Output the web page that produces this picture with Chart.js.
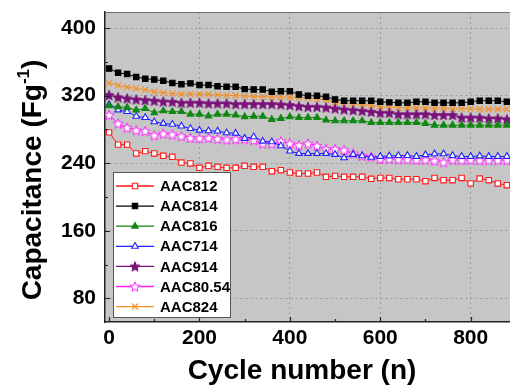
<!DOCTYPE html>
<html lang="en">
<head>
<meta charset="UTF-8">
<script src="https://cdn.jsdelivr.net/npm/chart.js"></script>
<style>
    html, body { margin: 0; padding: 0; background: #ffffff; }
    canvas { display: block; }
</style>
<title>Capacitance vs cycle number</title>
</head>
<body>
<canvas id="chartCanvas" width="510" height="386"></canvas>
<script>
// cycle numbers (x values)
const cycles = [0, 20, 40, 60, 80, 100, 120, 140, 160, 180, 200, 220, 240, 260, 280, 300, 320, 340, 360, 380,
    400, 420, 440, 460, 480, 500, 520, 540, 560, 580, 600, 620, 640, 660, 680, 700, 720, 740, 760, 780,
    800, 820, 840, 860, 880];

const seriesNames = ['AAC812', 'AAC814', 'AAC816', 'AAC714', 'AAC914', 'AAC80.54', 'AAC824'];

// capacitance values (F/g)
const aac812 = [276.5, 262, 262, 251.5, 254.3, 251.5, 248.7, 247.6, 240.8, 239.7,
    234.5, 236.9, 235.7, 234.5, 234.5, 236.9, 235.7, 235.7, 230.5, 231.7,
    229, 227.8, 227.8, 229, 223.9, 225, 223.9, 223.9, 223.9, 221.5,
    222.6, 222.6, 221, 221, 221, 218.7, 222.6, 219.9, 219.9, 222.6,
    216, 221.8, 219.9, 216, 214];
const aac814 = [352, 347, 345.5, 342, 340, 339, 337.5, 335, 333.5, 334.5,
    332.5, 332.5, 331, 330.5, 330.5, 327.7, 327.3, 327.3, 324.5, 325.3,
    325.3, 321.4, 319.8, 319.8, 318.6, 315.5, 313.9, 313.9, 313.9, 313.9,
    312.7, 312, 311.5, 311.5, 312.7, 312.7, 311.5, 311.5, 311.5, 311.5,
    312.7, 313.9, 313.9, 313.9, 312.7];
const aac816 = [308, 306.8, 306, 302.8, 304.8, 299.6, 302, 301, 301, 298,
    298, 295.7, 298, 298, 297, 295, 295.5, 295.5, 291.8, 293,
    294.9, 294, 294, 294, 291, 290.2, 290.2, 290.2, 290.2, 288,
    288, 288, 288, 288, 288, 287, 285, 285, 285, 285,
    285, 285, 285, 285, 285];
const aac714 = [309.5, 303, 301, 295.5, 294, 289, 287, 286, 284, 281,
    279, 278.3, 278, 276, 275.5, 269.3, 271.2, 266, 265.3, 260.6,
    254.3, 251.5, 251.5, 251.5, 251.5, 250.3, 246.3, 250.3, 248.7, 247,
    248, 248.5, 249, 249, 248, 250, 251, 251, 249, 248,
    248, 248.5, 248, 248, 248];
const aac914 = [320.6, 318, 316.7, 315.5, 314.7, 314, 313, 312.7, 311.5, 311.5,
    311.5, 310.8, 310.8, 310.8, 310, 310, 310, 310, 310, 309.5,
    308.8, 307.5, 306.8, 306.8, 306, 304.8, 303.6, 302.8, 302, 300.8,
    299.6, 299.6, 298, 298, 298, 298, 297, 297, 297, 294,
    294, 294, 293, 293, 292];
const aac8054 = [297, 287, 282, 279, 278, 273, 275, 274, 272, 270,
    269.5, 270, 269, 268, 268.5, 268.5, 267.3, 263.3, 263.3, 266,
    263.3, 261.4, 263.3, 260.6, 256.6, 256.6, 255.4, 251.5, 248.7, 247.6,
    245, 245, 244.5, 244.5, 244, 244, 243, 241, 244, 243.5,
    244, 243.5, 243.5, 243.5, 243.5];
const aac824 = [335, 332, 330, 328.5, 327, 324.5, 323.5, 322.5, 322, 322,
    321.5, 321.5, 321, 320.5, 320, 319.5, 319, 319, 318.5, 318.5,
    318, 317.5, 317, 316, 315, 312, 311, 310.5, 309.5, 308.5,
    307, 306, 306, 305.5, 305.5, 305, 305, 305, 304.5, 304.5,
    304.5, 304, 304, 304, 304];

const xTicks = [0, 200, 400, 600, 800];
const yTicks = [80, 160, 240, 320, 400];

const FONT = "'Liberation Sans', Arial, sans-serif";

// 5-point star marker as a small canvas
function starImage(fill, stroke) {
    const c = document.createElement('canvas');
    c.width = 12;
    c.height = 12;
    const g = c.getContext('2d');
    g.beginPath();
    for (let i = 0; i < 10; i++) {
        const r = i % 2 ? 2.3 : 5.2;
        const a = -Math.PI / 2 + i * Math.PI / 5;
        const px = 6 + r * Math.cos(a);
        const py = 6.5 + r * Math.sin(a);
        if (i === 0) g.moveTo(px, py); else g.lineTo(px, py);
    }
    g.closePath();
    g.fillStyle = fill;
    g.fill();
    g.lineWidth = 1;
    g.strokeStyle = stroke;
    g.stroke();
    return c;
}

function toPoints(values) {
    return values.map((v, i) => ({ x: cycles[i], y: v }));
}

const styles = [
    { color: '#ff1a1a', style: 'rect', fill: '#ffffff', radius: 3.8 },
    { color: '#000000', style: 'rect', fill: '#000000', radius: 3.8 },
    { color: '#118811', style: 'triangle', fill: '#118811', radius: 3.8 },
    { color: '#2222ff', style: 'triangle', fill: '#ffffff', radius: 3.8 },
    { color: '#7a107a', style: starImage('#7a107a', '#7a107a'), fill: '#7a107a', radius: 4 },
    { color: '#ff22ff', style: starImage('#ffffff', '#ff22ff'), fill: '#ffffff', radius: 4 },
    { color: '#f59020', style: 'crossRot', fill: '#f59020', radius: 4.4 }
];
const seriesValues = [aac812, aac814, aac816, aac714, aac914, aac8054, aac824];

const datasets = seriesNames.map((name, i) => ({
    label: name,
    data: toPoints(seriesValues[i]),
    borderColor: styles[i].color,
    backgroundColor: styles[i].fill,
    pointStyle: styles[i].style,
    pointRadius: styles[i].radius,
    pointBorderColor: styles[i].color,
    pointBackgroundColor: styles[i].fill,
    pointBorderWidth: 1.1,
    borderWidth: 1,
    fill: false,
    tension: 0
}));

// gray plot background
const plotBackground = {
    id: 'plotBackground',
    beforeDraw(chart) {
        const { ctx, chartArea: a } = chart;
        ctx.save();
        ctx.fillStyle = '#c6c6c6';
        ctx.fillRect(a.left, a.top, a.right - a.left, a.bottom - a.top);
        ctx.restore();
    }
};

// inward tick marks, top frame, axis titles and the boxed legend
const decorations = {
    id: 'decorations',
    afterDraw(chart) {
        const { ctx, chartArea: a } = chart;
        const xs = chart.scales.x;
        const ys = chart.scales.y;
        ctx.save();

        // top frame
        ctx.strokeStyle = '#707070';
        ctx.lineWidth = 1;
        ctx.beginPath();
        ctx.moveTo(a.left, a.top + 0.5);
        ctx.lineTo(a.right, a.top + 0.5);
        ctx.stroke();

        // ticks
        ctx.strokeStyle = '#222222';
        ctx.lineWidth = 1.2;
        ctx.beginPath();
        for (let v = 0; v <= 880; v += 100) {
            const px = Math.round(xs.getPixelForValue(v)) + 0.5;
            const len = v % 200 === 0 ? 5 : 3;
            ctx.moveTo(px, a.bottom);
            ctx.lineTo(px, a.bottom - len);
        }
        for (let v = 80; v <= 400; v += 40) {
            const py = Math.round(ys.getPixelForValue(v)) + 0.5;
            const len = v % 80 === 0 ? 5 : 3;
            ctx.moveTo(a.left, py);
            ctx.lineTo(a.left + len, py);
        }
        ctx.stroke();

        // axis titles
        ctx.fillStyle = '#000000';
        ctx.font = 'bold 28px ' + FONT;
        ctx.textAlign = 'center';
        ctx.textBaseline = 'middle';
        ctx.fillText('Cycle number (n)', 302, 371);

        ctx.save();
        ctx.translate(31, 180);
        ctx.rotate(-Math.PI / 2);
        const main = 'Capacitance (Fg';
        const sup = '-1';
        const close = ')';
        ctx.font = 'bold 28px ' + FONT;
        const wMain = ctx.measureText(main).width;
        const wClose = ctx.measureText(close).width;
        ctx.font = 'bold 17px ' + FONT;
        const wSup = ctx.measureText(sup).width;
        const total = wMain + wSup + wClose;
        const x0 = -total / 2;
        ctx.textAlign = 'left';
        ctx.textBaseline = 'alphabetic';
        ctx.font = 'bold 28px ' + FONT;
        ctx.fillText(main, x0, 10);
        ctx.font = 'bold 17px ' + FONT;
        ctx.fillText(sup, x0 + wMain, -2);
        ctx.font = 'bold 28px ' + FONT;
        ctx.fillText(close, x0 + wMain + wSup, 10);
        ctx.restore();

        // legend box
        const box = { x: 113, y: 172, w: 117, h: 145 };
        ctx.fillStyle = '#ffffff';
        ctx.fillRect(box.x, box.y, box.w, box.h);
        ctx.strokeStyle = '#555555';
        ctx.lineWidth = 1;
        ctx.strokeRect(box.x + 0.5, box.y + 0.5, box.w, box.h);

        ctx.font = 'bold 15px ' + FONT;
        ctx.textAlign = 'left';
        ctx.textBaseline = 'middle';
        chart.data.datasets.forEach((ds, i) => {
            const cy = 186 + i * 20.1;
            ctx.strokeStyle = ds.borderColor;
            ctx.lineWidth = 1.3;
            ctx.beginPath();
            ctx.moveTo(116, cy);
            ctx.lineTo(154, cy);
            ctx.stroke();
            ctx.fillStyle = ds.pointBackgroundColor;
            ctx.strokeStyle = ds.pointBorderColor;
            ctx.lineWidth = 1.1;
            Chart.helpers.drawPoint(ctx, {
                pointStyle: ds.pointStyle,
                radius: ds.pointRadius,
                borderWidth: 1.1,
                rotation: 0
            }, 135, cy);
            ctx.fillStyle = '#000000';
            ctx.fillText(ds.label, 160, cy + 1);
        });

        ctx.restore();
    }
};

const tickFont = { family: FONT, size: 21, weight: 'bold' };

function noPadding(axis) {
    axis.paddingTop = 0;
    axis.paddingBottom = 0;
    axis.paddingLeft = 0;
    axis.paddingRight = 0;
}

new Chart(document.getElementById('chartCanvas').getContext('2d'), {
    type: 'line',
    data: { datasets: datasets },
    options: {
        responsive: false,
        animation: false,
        devicePixelRatio: 1,
        layout: { autoPadding: false, padding: { top: 12, right: 0, left: 0, bottom: 0 } },
        plugins: {
            legend: { display: false },
            tooltip: { enabled: false }
        },
        scales: {
            x: {
                type: 'linear',
                min: -9,
                max: 887,
                afterBuildTicks: axis => { axis.ticks = xTicks.map(v => ({ value: v })); },
                afterFit: axis => { axis.height = 64; noPadding(axis); },
                ticks: { font: tickFont, color: '#000000', padding: 4, maxRotation: 0 },
                grid: {
                    drawTicks: false,
                    color: ctx => (ctx.tick && ctx.tick.value === 0) ? 'rgba(0,0,0,0)' : '#9a9a9a',
                    lineWidth: 1
                },
                border: { display: true, color: '#222222', width: 1.5, dash: [2, 3] }
            },
            y: {
                type: 'linear',
                min: 52,
                max: 419,
                afterBuildTicks: axis => { axis.ticks = yTicks.map(v => ({ value: v })); },
                afterFit: axis => { axis.width = 105; noPadding(axis); },
                ticks: { font: tickFont, color: '#000000', padding: 9 },
                grid: { drawTicks: false, color: '#9a9a9a', lineWidth: 1 },
                border: { display: true, color: '#222222', width: 1.5, dash: [2, 3] }
            }
        }
    },
    plugins: [plotBackground, decorations]
});
</script>
</body>
</html>
